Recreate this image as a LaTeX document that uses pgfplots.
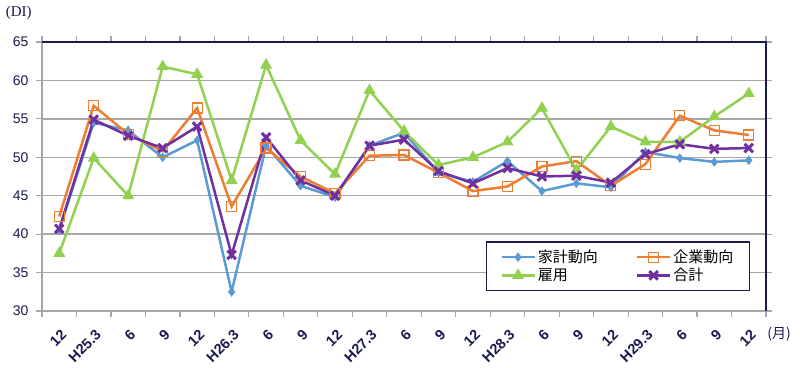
\documentclass[border=0pt]{standalone}
\usepackage{pgfplots}
\pgfplotsset{compat=1.18}
\usepackage{pgfplotstable}
\usepackage{fontspec}
\setmainfont{Liberation Sans}
\newfontfamily\cjk{Noto Sans CJK JP}
\newfontfamily\seriffont{Liberation Serif}
\definecolor{cblue}{HTML}{5B9BD5}
\definecolor{corange}{HTML}{ED7D31}
\definecolor{cgreen}{HTML}{92D050}
\definecolor{cpurple}{HTML}{7030A0}
\definecolor{navy}{HTML}{1A1A50}
\definecolor{gridgray}{HTML}{A6A6A6}
\pgfplotstableread{
x a b c d
0 40.5 42.3 37.5 40.7
1 54.5 56.7 49.9 54.9
2 53.5 53.0 45.0 52.8
3 50.0 50.8 61.8 51.2
4 52.2 56.4 60.8 54.0
5 32.5 43.6 47.0 37.3
6 51.5 51.2 62.0 52.6
7 46.3 47.5 52.2 47.0
8 44.8 45.3 47.8 45.0
9 51.5 50.2 58.7 51.5
10 53.2 50.3 53.4 52.3
11 48.0 48.0 49.0 48.2
12 46.8 45.6 50.0 46.6
13 49.5 46.2 52.0 48.6
14 45.6 48.8 56.4 47.5
15 46.6 49.5 48.3 47.6
16 46.1 46.3 54.0 46.7
17 50.7 49.1 52.0 50.4
18 49.9 55.4 52.0 51.7
19 49.4 53.5 55.3 51.1
20 49.6 52.9 58.3 51.2
}\data
\begin{document}
\begin{tikzpicture}
\begin{axis}[
  name=ax,
  scale only axis,
  width=724pt, height=269pt,
  xmin=-0.5, xmax=20.5,
  ymin=30, ymax=65,
  ytick={30,35,...,65},
  xtick={0,...,20},
  xticklabels={12,H25.3,6,9,12,H26.3,6,9,12,H27.3,6,9,12,H28.3,6,9,12,H29.3,6,9,12},
  minor xtick={-0.5,0.5,...,20.5},
  major x tick style={draw=none},
  minor x tick style={draw=gridgray, line width=1.2pt},
  minor tick length=6pt,
  tick align=outside,
  ytick style={draw=gridgray, line width=1.2pt},
  major tick length=6pt,
  ymajorgrids,
  grid style={gridgray, line width=1.5pt},
  axis line style={gridgray, line width=1.5pt},
  /pgf/number format/assume math mode=true,
  y tick label style={font=\fontsize{14}{16}\selectfont, text=navy, xshift=-4pt},
  xticklabel style={font=\bfseries\fontsize{14.5}{16}\selectfont, text=navy, inner sep=1pt, yshift=-10pt, xshift=1pt},
  xticklabel style={rotate=45, anchor=north east},
  clip=false,
  legend style={at={(0.978,0.074)}, anchor=south east, draw=navy, line width=1.5pt,
    font=\cjk\fontsize{15}{17}\selectfont, text=black, inner xsep=14pt, inner ysep=6pt,
    /tikz/every even column/.append style={column sep=36pt},
    row sep=0pt},
  legend columns=2,
  legend cell align=left,
  legend image code/.code={\draw[mark repeat=2,mark phase=2] plot coordinates {(0pt,0pt)(16.5pt,0pt)(33pt,0pt)};},
]
\addplot[cblue, line width=2.5pt, mark=diamond*, mark size=4pt, mark options={solid, line width=1pt}] table[x=x,y=a] {\data};
\addlegendentry{家計動向}
\addplot[corange, line width=2.5pt, mark=square, mark size=5pt, mark options={solid, fill=white, line width=1.2pt}] table[x=x,y=b] {\data};
\addlegendentry{企業動向}
\addplot[cgreen, line width=2.5pt, mark=triangle*, mark size=6pt, mark options={solid, line width=1pt}] table[x=x,y=c] {\data};
\addlegendentry{雇用}
\addplot[cpurple, line width=2.5pt, mark=x, mark size=6pt, mark options={solid, line width=3pt}] table[x=x,y=d] {\data};
\addlegendentry{合計}
\draw[navy, line width=1.5pt] (rel axis cs:0,1) -- (rel axis cs:1,1) -- (rel axis cs:1,0);
\node[font=\seriffont\fontsize{15}{17}\selectfont, text=navy] at (rel axis cs:-0.032,1.108) {(DI)};
\node[font=\cjk\fontsize{14}{16}\selectfont, text=navy] at (rel axis cs:1.018,-0.0855) {(月)};
\end{axis}
\pgfresetboundingbox
\path[use as bounding box] (ax.south west) ++(-42pt,-56pt) rectangle ([shift={(34pt,42pt)}]ax.north east);
\end{tikzpicture}
\end{document}
